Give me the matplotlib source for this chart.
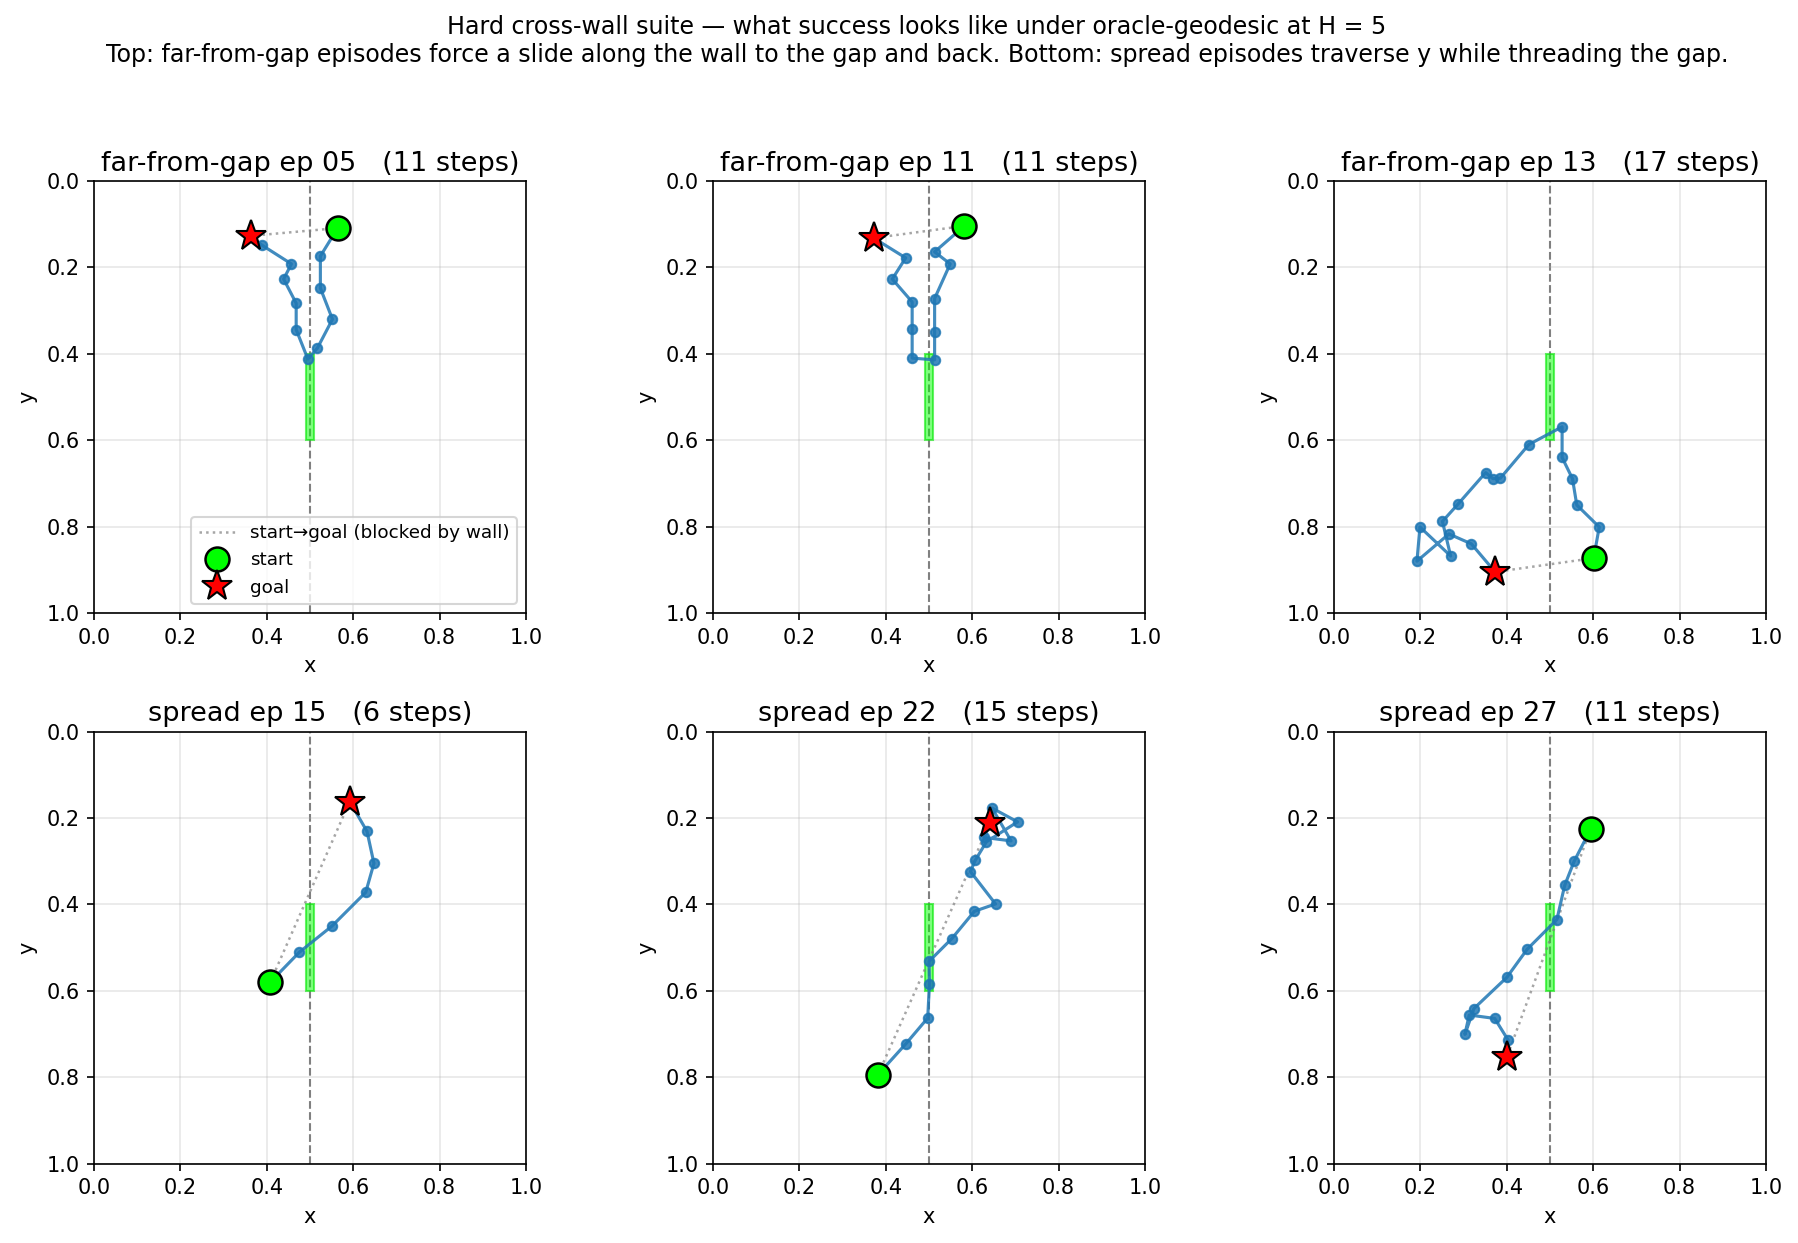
import matplotlib
matplotlib.use("Agg")
import matplotlib.pyplot as plt
from matplotlib.patches import Rectangle

W, H = 1798, 1243
DPI = 150

titles = [
    "far-from-gap ep 05   (11 steps)",
    "far-from-gap ep 11   (11 steps)",
    "far-from-gap ep 13   (17 steps)",
    "spread ep 15   (6 steps)",
    "spread ep 22   (15 steps)",
    "spread ep 27   (11 steps)",
]

# trajectories: start, intermediate positions, goal
ep05_x = [0.564, 0.524, 0.524, 0.552, 0.517, 0.495, 0.468, 0.468, 0.439, 0.457, 0.388, 0.363]
ep05_y = [0.109, 0.174, 0.248, 0.320, 0.387, 0.412, 0.344, 0.283, 0.227, 0.192, 0.148, 0.127]

ep11_x = [0.582, 0.513, 0.549, 0.513, 0.513, 0.513, 0.461, 0.461, 0.461, 0.415, 0.446, 0.372]
ep11_y = [0.104, 0.164, 0.192, 0.272, 0.350, 0.414, 0.410, 0.343, 0.280, 0.227, 0.178, 0.132]

ep13_x = [0.601, 0.614, 0.562, 0.552, 0.528, 0.528, 0.451, 0.385, 0.368, 0.351, 0.287,
          0.251, 0.270, 0.199, 0.192, 0.266, 0.318, 0.373]
ep13_y = [0.873, 0.801, 0.750, 0.689, 0.640, 0.569, 0.610, 0.688, 0.689, 0.675, 0.748,
          0.788, 0.868, 0.801, 0.880, 0.817, 0.840, 0.905]

ep15_x = [0.408, 0.475, 0.551, 0.629, 0.648, 0.632, 0.592]
ep15_y = [0.580, 0.511, 0.450, 0.372, 0.305, 0.231, 0.162]

ep22_x = [0.382, 0.447, 0.497, 0.501, 0.500, 0.553, 0.605, 0.654, 0.596, 0.607,
          0.633, 0.705, 0.646, 0.690, 0.628, 0.641]
ep22_y = [0.794, 0.722, 0.663, 0.585, 0.532, 0.479, 0.416, 0.399, 0.324, 0.298,
          0.255, 0.209, 0.177, 0.253, 0.245, 0.212]

ep27_x = [0.594, 0.556, 0.534, 0.516, 0.447, 0.400, 0.324, 0.303, 0.313, 0.372, 0.403, 0.400]
ep27_y = [0.226, 0.300, 0.356, 0.435, 0.504, 0.569, 0.641, 0.701, 0.656, 0.664, 0.714, 0.754]

trajs = [(ep05_x, ep05_y), (ep11_x, ep11_y), (ep13_x, ep13_y),
         (ep15_x, ep15_y), (ep22_x, ep22_y), (ep27_x, ep27_y)]

wall_x = 0.5
gap_lo, gap_hi = 0.4, 0.6
ticks = [0.0, 0.2, 0.4, 0.6, 0.8, 1.0]

fig = plt.figure(figsize=(W / DPI, H / DPI), dpi=DPI)
fig.suptitle("Hard cross-wall suite — what success looks like under oracle-geodesic at H = 5\n"
             "Top: far-from-gap episodes force a slide along the wall to the gap and back. "
             "Bottom: spread episodes traverse y while threading the gap.",
             fontsize=11.4, x=0.51, y=0.988, va="top")

lefts = [94, 713, 1334]
tops = [181, 731.6]
size = 432

for i, ((xs, ys), title) in enumerate(zip(trajs, titles)):
    r, c = divmod(i, 3)
    ax = fig.add_axes([lefts[c] / W, 1 - (tops[r] + size) / H, size / W, size / H])
    ax.grid(True, alpha=0.3)
    ax.axvline(wall_x, color="gray", linestyle="--", linewidth=1.0, zorder=1)
    ax.add_patch(Rectangle((wall_x - 0.01, gap_lo), 0.02, gap_hi - gap_lo,
                           facecolor=(0.0, 1.0, 0.0, 0.5), edgecolor=(0.0, 0.9, 0.0, 0.6),
                           linewidth=1.0, zorder=2))
    ax.plot([xs[0], xs[-1]], [ys[0], ys[-1]], linestyle=":", color="gray",
            alpha=0.7, linewidth=1.2, zorder=3, label="start→goal (blocked by wall)")
    ax.plot(xs, ys, "-o", color="#1f77b4", alpha=0.85, linewidth=1.5,
            markersize=4.5, zorder=4)
    ax.plot(xs[0], ys[0], "o", color="lime", markeredgecolor="black",
            markersize=11.5, markeredgewidth=1.2, zorder=6, linestyle="none", label="start")
    ax.plot(xs[-1], ys[-1], "*", color="red", markeredgecolor="black",
            markersize=15, markeredgewidth=1.0, zorder=7, linestyle="none", label="goal")
    ax.set_xlim(0, 1)
    ax.set_ylim(1, 0)
    ax.set_xticks(ticks)
    ax.set_yticks(ticks)
    ax.set_xlabel("x")
    ax.set_ylabel("y")
    ax.set_title(title, fontsize=13, pad=5)
    if i == 0:
        ax.legend(loc="lower right", fontsize=8.8)

fig.savefig("out.png", dpi=DPI)
